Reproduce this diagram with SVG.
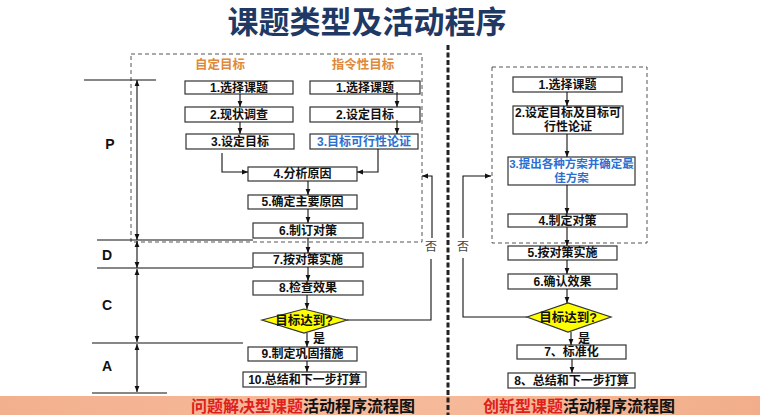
<svg xmlns="http://www.w3.org/2000/svg" width="760" height="415" viewBox="0 0 760 415">
<defs>
<marker id="ah" viewBox="0 0 10 10" refX="10" refY="5" markerWidth="6" markerHeight="6" orient="auto-start-reverse" markerUnits="userSpaceOnUse"><path d="M0,1 L10,5 L0,9 z" fill="#111"/></marker>
<linearGradient id="band" x1="0" y1="0" x2="1" y2="0"><stop offset="0" stop-color="#F3B08E"/><stop offset="0.5" stop-color="#F6BB9C"/><stop offset="1" stop-color="#F2AE8A"/></linearGradient>
<style>
.t{font-family:"Liberation Sans","Noto Sans CJK SC",sans-serif;}
.bx rect{fill:#fff;stroke:#333;stroke-width:1.2;}
.bx text{font-family:"Liberation Sans","Noto Sans CJK SC",sans-serif;font-size:12px;font-weight:bold;fill:#111;text-anchor:middle;dominant-baseline:central;}
.bx text.blue{fill:#2A6FD1;}
.dm polygon{fill:#FFFF00;stroke:#333;stroke-width:1.2;}
.dm text{font-family:"Liberation Sans","Noto Sans CJK SC",sans-serif;font-size:12.5px;font-weight:bold;fill:#111;text-anchor:middle;dominant-baseline:central;}
.c{fill:none;stroke:#111;stroke-width:1.1;}
.ca{fill:none;stroke:#111;stroke-width:1.1;marker-end:url(#ah);}
.cd{fill:none;stroke:#111;stroke-width:1.1;marker-start:url(#ah);marker-end:url(#ah);}
.dash{fill:none;stroke:#555;stroke-width:1;stroke-dasharray:4,3;}
.lbl{font-family:"Liberation Sans","Noto Sans CJK SC",sans-serif;font-size:12px;font-weight:bold;fill:#111;text-anchor:middle;dominant-baseline:central;}
.no{font-family:"Liberation Sans","Noto Sans CJK SC",sans-serif;font-size:12px;fill:#444;text-anchor:middle;dominant-baseline:central;}
.ph{font-family:"Liberation Sans","Noto Sans CJK SC",sans-serif;font-size:14px;font-weight:bold;fill:#111;text-anchor:middle;dominant-baseline:central;}
.hd{font-family:"Liberation Sans","Noto Sans CJK SC",sans-serif;font-size:12.5px;font-weight:bold;fill:#E0893A;text-anchor:middle;dominant-baseline:central;}
</style>
</defs>
<rect width="760" height="415" fill="#fff"/>

<text class="t" x="367" y="33" font-size="31" font-weight="bold" fill="#1F3864" text-anchor="middle">课题类型及活动程序</text>

<!-- bottom band -->
<rect x="0" y="396" width="760" height="19" fill="url(#band)"/>
<text class="t" x="191" y="412" font-size="16" font-weight="bold" fill="#111"><tspan fill="#E0201B">问题解决型课题</tspan>活动程序流程图</text>
<text class="t" x="483" y="412" font-size="16" font-weight="bold" fill="#111"><tspan fill="#E0201B">创新型课题</tspan>活动程序流程图</text>

<!-- central divider -->
<line x1="448" y1="45" x2="448" y2="415" stroke="#222" stroke-width="3" stroke-dasharray="5,2.5"/>

<!-- dashed frames -->
<rect class="dash" x="131" y="54" width="291" height="188"/>
<rect class="dash" x="492" y="67" width="155" height="176"/>

<!-- headers -->
<text class="hd" x="220" y="65">自定目标</text>
<text class="hd" x="363" y="65">指令性目标</text>

<!-- PDCA scale -->
<g id="pdca">
<line class="c" x1="84" y1="80" x2="156" y2="80"/>
<line class="c" x1="97" y1="240" x2="253" y2="240"/>
<line class="c" x1="97" y1="268" x2="253" y2="268"/>
<line class="c" x1="92" y1="343" x2="243" y2="343"/>
<line class="c" x1="92" y1="393" x2="167" y2="393"/>
<line class="cd" x1="137" y1="80" x2="137" y2="240"/>
<line class="cd" x1="137" y1="241" x2="137" y2="268"/>
<line class="cd" x1="137" y1="269" x2="137" y2="342"/>
<line class="cd" x1="137" y1="344" x2="137" y2="392"/>
<text class="ph" x="110" y="144">P</text>
<text class="ph" x="107" y="255">D</text>
<text class="ph" x="107" y="305">C</text>
<text class="ph" x="107" y="366">A</text>
</g>

<!-- left flow nodes -->
<g id="l1" class="bx"><rect x="185" y="81" width="108" height="13"/><text x="239" y="87.5">1.选择课题</text></g>
<g id="l2" class="bx"><rect x="185" y="107" width="108" height="15"/><text x="239" y="114.5">2.现状调查</text></g>
<g id="l3" class="bx"><rect x="186" y="134" width="108" height="15"/><text x="240" y="141.5">3.设定目标</text></g>
<g id="r1" class="bx"><rect x="310" y="81" width="110" height="13"/><text x="365" y="87.5">1.选择课题</text></g>
<g id="r2" class="bx"><rect x="310" y="107" width="110" height="15"/><text x="365" y="114.5">2.设定目标</text></g>
<g id="r3" class="bx"><rect x="310" y="134" width="108" height="15"/><text class="blue" x="364" y="141.5">3.目标可行性论证</text></g>
<g id="l4" class="bx"><rect x="248" y="167" width="109" height="14"/><text x="302.5" y="174">4.分析原因</text></g>
<g id="l5" class="bx"><rect x="248" y="195" width="109" height="14"/><text x="302.5" y="202">5.确定主要原因</text></g>
<g id="l6" class="bx"><rect x="253" y="223" width="110" height="15"/><text x="308" y="230.5">6.制订对策</text></g>
<g id="l7" class="bx"><rect x="253" y="253" width="110" height="14"/><text x="308" y="260">7.按对策实施</text></g>
<g id="l8" class="bx"><rect x="253" y="281" width="110" height="14"/><text x="308" y="288">8.检查效果</text></g>
<g id="ld" class="dm"><polygon points="262,320 304,309 347,320 304,333"/><text x="304" y="321">目标达到?</text></g>
<g id="l9" class="bx"><rect x="248" y="347" width="109" height="14"/><text x="302.5" y="354">9.制定巩固措施</text></g>
<g id="l10" class="bx"><rect x="243" y="372" width="123" height="15"/><text x="304.5" y="379.5">10.总结和下一步打算</text></g>

<!-- right flow nodes -->
<g id="n1" class="bx"><rect x="513" y="77" width="109" height="15"/><text x="567.5" y="84.5">1.选择课题</text></g>
<g id="n2" class="bx"><rect x="513" y="106" width="110" height="28"/><text x="568" y="113">2.设定目标及目标可</text><text x="568" y="127">行性论证</text></g>
<g id="n3" class="bx"><rect x="508" y="157" width="127" height="28"/><text class="blue" x="571.5" y="164" style="font-size:11.5px">3.提出各种方案并确定最</text><text class="blue" x="571.5" y="178" style="font-size:11.5px">佳方案</text></g>
<g id="n4" class="bx"><rect x="508" y="214" width="119" height="13"/><text x="567.5" y="220.5">4.制定对策</text></g>
<g id="n5" class="bx"><rect x="508" y="246" width="109" height="14"/><text x="562.5" y="253">5.按对策实施</text></g>
<g id="n6" class="bx"><rect x="508" y="274" width="109" height="15"/><text x="562.5" y="281.5">6.确认效果</text></g>
<g id="nd" class="dm"><polygon points="527,317 568,303 611,317 568,332"/><text x="568" y="318">目标达到?</text></g>
<g id="n7" class="bx"><rect x="517" y="345" width="109" height="14"/><text x="571.5" y="352">7、标准化</text></g>
<g id="n8" class="bx"><rect x="508" y="373" width="127" height="15"/><text x="571.5" y="380.5">8、总结和下一步打算</text></g>

<!-- connectors -->
<g id="connectors">
<line class="ca" x1="240" y1="94" x2="240" y2="107"/>
<line class="ca" x1="240" y1="122" x2="240" y2="134"/>
<line class="ca" x1="397" y1="92" x2="397" y2="107"/>
<line class="ca" x1="397" y1="120" x2="397" y2="134"/>
<polyline class="ca" points="222,153 222,172 248,172"/>
<polyline class="ca" points="378,149 378,172 357,172"/>
<line class="ca" x1="308" y1="181" x2="308" y2="195"/>
<line class="ca" x1="308" y1="209" x2="308" y2="223"/>
<line class="ca" x1="308" y1="238" x2="308" y2="253"/>
<line class="ca" x1="308" y1="267" x2="308" y2="281"/>
<line class="ca" x1="307" y1="295" x2="307" y2="309"/>
<line class="ca" x1="307" y1="333" x2="307" y2="347"/>
<line class="ca" x1="307" y1="361" x2="307" y2="372"/>
<polyline class="c" points="347,320 431,320 431,259"/>
<polyline class="ca" points="432,238 432,176 422,176"/>
<text class="no" x="431" y="247">否</text>
<text class="lbl" x="319" y="339">是</text>

<line class="ca" x1="567" y1="92" x2="567" y2="106"/>
<line class="ca" x1="567" y1="134" x2="567" y2="157"/>
<line class="ca" x1="567" y1="185" x2="567" y2="214"/>
<line class="ca" x1="567" y1="227" x2="567" y2="246"/>
<line class="ca" x1="567" y1="260" x2="567" y2="274"/>
<line class="ca" x1="567" y1="289" x2="567" y2="303"/>
<line class="ca" x1="571" y1="332" x2="571" y2="345"/>
<line class="ca" x1="572" y1="359" x2="572" y2="373"/>
<polyline class="c" points="527,317 463,317 463,258"/>
<polyline class="ca" points="463,238 463,176 491,176"/>
<text class="no" x="463" y="247">否</text>
<text class="lbl" x="584" y="339">是</text>
</g>
</svg>
